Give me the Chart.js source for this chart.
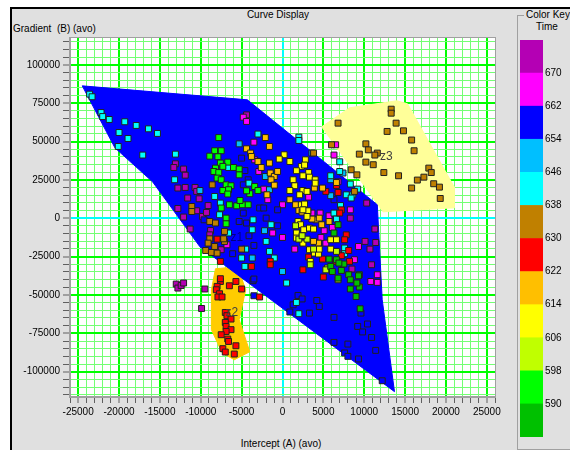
<!DOCTYPE html>
<html lang="en">
<head>
<meta charset="UTF-8" />
<title>Curve Display</title>
<script src="https://cdn.jsdelivr.net/npm/chart.js"></script>
<style>
  body { margin: 0; background: #fff; font-family: "Liberation Sans", Arial, sans-serif; }
  #frame { position: absolute; left: 10px; top: 7px; width: 560px; height: 443px; background: #e0e0e0;
           border-top: 2px solid #000; border-left: 2px solid #000; box-sizing: border-box; }
  .txt { position: absolute; font-size: 10px; color: #000; white-space: nowrap; line-height: 12px; }
  #mainWrap { position: absolute; left: 12px; top: 10px; width: 503px; height: 440px; }
  #keyWrap { position: absolute; left: 515px; top: 30px; width: 55px; height: 415px; }
  #keyBox { position: absolute; left: 517px; top: 15px; width: 60px; height: 433px;
            border-left: 1px solid #a0a0a0; border-top: 1px solid #a0a0a0; border-bottom: 1px solid #a0a0a0; }
</style>
</head>
<body>
<div id="frame"></div>
<div id="keyBox"></div>
<div class="txt" style="left:0;width:556px;text-align:center;top:9px;">Curve Display</div>
<div class="txt" style="left:13px;top:23px;">Gradient&nbsp;&nbsp;(B) (avo)</div>
<div class="txt" style="left:0;width:562px;text-align:center;top:438px;">Intercept (A) (avo)</div>
<div class="txt" style="left:524px;top:9px;background:#e0e0e0;padding:0 2px;">Color Key</div>
<div class="txt" style="left:536px;top:21px;">Time</div>
<div id="mainWrap"><canvas id="cross"></canvas></div>
<div id="keyWrap"><canvas id="key"></canvas></div>

<script>
// points grouped by time class (intercept, gradient)
const pts670 = [[-13100,35500],[-13300,33100],[-12100,32100],[-11900,28100],[-12800,19700],[-11900,20100],[-10700,20100],[-10500,17500],[-11600,13200],[-10200,12700],[-12800,6400],[-10500,4900],[-12100,800],[-11300,-7000],[-13000,-42900],[-12800,-45500],[-12400,-43800],[-12100,-42200],[-9500,-46100],[-9900,-58800],[-4400,67400],[-9800,1200],[-9100,8300],[-9300,3800],[-8800,-8000],[-8900,-10800],[10300,9900],[8300,100],[11300,-7000],[10100,-15100],[10700,-20100],[11400,-15800],[10900,-30300],[8500,-33100],[-7500,-20500]];
const pts662 = [[-4800,65900],[-4400,63100],[-3500,49600],[-3400,38100],[-2900,30500],[-2300,19000],[6500,47900],[6300,41200],[6800,23800],[3200,13800],[8300,5500],[9300,-18400],[10800,-41200],[11600,-41800],[11600,-36800],[0,8800],[0,-12500],[1500,-20100],[8800,-27000],[5700,1600],[5300,-16200],[5100,-8100],[3600,3400],[4600,3400],[6100,-6000],[4700,-12500],[7400,-23300],[-1800,12100],[-1200,-9600],[-6800,-17300]];
const pts654 = [[1900,-50300],[2400,-52600],[1300,-56400],[900,-61100],[3300,-61800],[4200,-53600],[4500,-57500],[6300,-64600],[9200,-70500],[10400,-68900],[9800,-74100],[10900,-77700],[6300,-80900],[8000,-82000],[7600,-87800],[8000,-90000],[9300,-91700],[11400,-86100],[12200,-105900],[9600,-61800],[-3500,-50500],[-3600,-40700],[-5000,39200],[-4600,31100],[-4200,25100],[-4800,21800],[-9600,-1000],[-5300,-2100],[-4800,3400],[-4400,-3100],[-4100,-11400],[-6100,-23100],[-3500,-39600],[-2800,6700],[-600,5500],[6300,12100],[-2300,6700],[-2000,100],[-600,-4900],[-3500,-17700]];
const pts646 = [[-5300,48500],[-10100,18100],[-2100,27200],[-1600,18600],[3600,42500],[0,-34700],[5900,25100],[7400,29500],[5900,14700],[-2200,-8100],[-3700,-25900]];
const pts638 = [[-22200,68900],[-22000,66300],[-21200,64400],[-19300,62900],[-17900,60500],[-16400,58300],[-15300,55300],[-20000,55900],[-18900,52000],[-20100,46800],[-17100,41200],[-13100,41800],[-13200,25100],[-23600,80900],[-23300,79200],[-3000,54900],[2000,52900],[2000,50700],[7000,36800],[5900,27700],[7000,30500],[8300,22300],[9200,19000],[8600,15300],[7800,15300],[8400,13200],[7100,8300],[6300,3400],[6600,-500],[7600,-19400],[7600,-23100],[-7700,2300],[-6600,-9600],[-4500,-20100],[-5000,-25900],[-4600,-31400],[-1000,-25900],[-1600,-21600],[-2000,-15100],[-1400,-4200],[-3600,-1000],[-3700,-7500],[-7600,9900],[500,-42200],[1700,-54900],[2000,-62200],[-4100,22900],[-8300,14200],[-6600,33100]];
const pts630 = [[13300,71100],[13300,68500],[6800,62000],[13900,62000],[12800,56600],[14800,57000],[15800,51000],[16100,44000],[10200,48500],[10500,44600],[11600,42500],[11300,41200],[9400,41800],[10200,36600],[11100,34900],[12400,29800],[14200,27700],[16500,24900],[17300,26800],[17900,32700],[18200,29800],[18500,22500],[19200,20300],[15800,19700],[19300,12900],[6000,47900],[8400,31600],[9100,28300],[3800,42500],[8800,17500],[-11100,7700],[-11100,4400],[-8600,21800],[-8900,-2100],[-8200,-3100],[-7100,-8600],[-8900,-13400],[-9100,-16200],[-8300,-18400],[-9400,-21000],[-8700,-22300],[-8000,-22700],[-7100,-15100],[-7200,-13400],[-5000,-20100]];
const pts622 = [[-7600,-41200],[-8000,-44400],[-8100,-46600],[-7700,-49200],[-7900,-51300],[-7400,-51300],[-6500,-44000],[-5700,-41200],[-5000,-46100],[-7000,-61400],[-6800,-63500],[-6300,-65700],[-7000,-67900],[-6900,-70500],[-6300,-72600],[-6900,-73800],[-7500,-75900],[-6700,-78700],[-6600,-80300],[-5700,-83100],[-7300,-85000],[-7000,-87200],[-5900,-88500],[-2800,-51300],[-8000,-13600],[-7600,-28100],[-7600,-39400],[-3800,-31400],[-1500,-28100],[-1500,-30300],[5300,17500],[6600,21400],[6800,16800],[7200,5500],[7000,3400],[7800,-10800],[8100,-21000],[3200,-25300],[4900,-26600],[6500,-28100],[8200,-28100],[2500,-33600],[5000,-38300],[7200,-24400],[7600,-14000]];
const pts614 = [[-2100,52600],[-1600,46800],[-4400,45300],[-3900,42500],[-3800,40300],[-3000,37000],[-1600,36000],[-2600,33100],[-1500,29500],[-1000,27200],[-1400,25100],[-1000,21600],[-1900,15300],[-600,30500],[3900,19700],[4900,19700],[6600,23300],[2000,5100],[2400,4000],[3100,3400],[4100,-1000],[4500,100],[4800,-4200],[5700,-2100],[4400,-16200],[3800,-15100],[3600,-500],[900,12100],[1600,8800]];
const pts606 = [[200,41400],[900,37000],[-400,38600],[2800,38100],[2300,33800],[2700,34700],[1700,31000],[3200,29800],[3300,26800],[2500,27700],[4000,25100],[4000,22900],[1300,25100],[1500,21200],[900,18100],[2500,18100],[3000,17500],[2100,15300],[2300,8800],[2700,9300],[3100,4900],[2500,5500],[3000,1200],[1900,-2100],[2200,-4200],[1700,-9600],[2600,-7500],[3300,-6400],[3800,-7000],[1700,-12900],[2500,-16200],[3300,-20500],[3900,-22700],[3400,-28100],[4400,-23300],[5900,-20100],[5900,-14000],[6600,-14000],[4500,-20100]];
const pts598 = [[2000,-13600],[3000,-13600],[3800,-20100],[3400,-30300],[5500,-32400],[6600,-21600],[1600,-4900],[2400,-11400],[6800,-40100],[5300,-33600]];
const pts590 = [[-7800,52600],[-8300,44000],[-7500,44000],[-8900,40500],[-7900,40100],[-6700,36600],[-7600,36000],[-8200,32700],[-7300,33800],[-6000,33100],[-5300,32100],[-8400,30500],[-7800,29800],[-5300,28300],[-8000,26200],[-7500,25100],[-6900,21800],[-6300,21200],[-7300,18100],[-6600,18600],[-6700,15800],[-4000,16000],[-4400,17900],[-3400,20700],[-3000,18100],[-7500,6700],[-6900,100],[-6900,-3600],[-6500,8800],[-5600,8100],[-4900,8800],[-4200,8800],[-5200,11600]];
const pts582 = [[8300,-46100],[9000,-51000],[9500,-59000],[9400,-44800],[9100,-42200],[9400,-36800],[6800,-4200],[6300,-9600],[5700,-26600],[5900,-31400],[6100,-34700],[6800,-39000],[7200,-34000],[7500,-29800],[8100,-36800],[8300,-40100],[9300,-37500],[6600,-27000],[6900,-29200]];

// zone outlines (polygons)
const zoneBlue = [[-24500,86300],[-4300,77200],[11600,8800],[12200,-53100],[13700,-113000],[-10100,-18600],[-15900,23800],[-20500,45900],[-24500,86300]];
const zoneZ3 = [[4800,59600],[8200,72000],[14000,76600],[15300,74600],[21000,20500],[21000,6800],[12300,4200],[4800,59600]];
const zoneZ2 = [[-8200,-32900],[-5500,-31600],[-4500,-46600],[-5300,-66100],[-4000,-87000],[-5900,-92200],[-7400,-87600],[-8700,-72600],[-8700,-46600],[-8200,-32900]];
const zoneNames = ['z1', 'z2', 'z3'];
const zoneNameX = [-5600, -6200, 12700];
const zoneNameY = [-12700, -61600, 40000];

// colour key
const keyTimes = [582, 590, 598, 606, 614, 622, 630, 638, 646, 654, 662, 670, 678];
const keyColors = ['#00c000', '#00ff00', '#c0ff00', '#ffff00', '#ffbf00', '#ff0000', '#c08000', '#00ffff', '#00bfff', '#0000ff', '#ff00ff', '#b400b4'];

const classPts = [pts582, pts590, pts598, pts606, pts614, pts622, pts630, pts638, pts646, pts654, pts662, pts670];

Chart.defaults.font.family = '"Liberation Sans", Arial, sans-serif';
Chart.defaults.font.size = 10;
Chart.defaults.color = '#000';

const toXY = arr => arr.map(p => ({ x: p[0], y: p[1] }));

const zoneSet = (pts, color, order) => ({
  data: toXY(pts), showLine: true, fill: 'shape', backgroundColor: color, borderColor: color,
  borderWidth: 1, pointRadius: 0, order: order
});

const datasets = [
  zoneSet(zoneZ3, '#ffff99', 30),
  zoneSet(zoneZ2, '#ffcc00', 29),
  zoneSet(zoneBlue, '#0000ff', 28)
];
classPts.forEach((pts, i) => {
  datasets.push({
    label: 'T' + keyTimes[i],
    data: toXY(pts),
    pointStyle: 'rect',
    pointRadius: 4.2,
    backgroundColor: keyColors[i],
    borderColor: '#202020',
    borderWidth: 1,
    order: i
  });
});

const xGrid = [];
for (let v = -26000; v <= 26000; v += 1000) xGrid.push(v);
const yGrid = [];
for (let v = -115000; v <= 115000; v += 5000) yGrid.push(v);

const gridColor = (major) => (ctx) => {
  const v = ctx.tick.value;
  if (v === 0) return '#00ffff';
  return v % major === 0 ? '#00ff00' : '#74ff74';
};
const gridWidth = (major) => (ctx) => (ctx.tick.value % major === 0 ? 2 : 1);

const extras = {
  id: 'extras',
  beforeDraw(chart) {
    const { ctx, chartArea: a } = chart;
    ctx.save();
    ctx.fillStyle = '#ffffff';
    ctx.fillRect(a.left, a.top, a.right - a.left, a.bottom - a.top);
    ctx.restore();
  },
  afterDatasetsDraw(chart) {
    const { ctx, scales: { x, y }, chartArea: a } = chart;
    ctx.save();
    ctx.font = '12px "Liberation Sans", Arial, sans-serif';
    ctx.textAlign = 'center';
    ctx.textBaseline = 'middle';
    zoneNames.forEach((n, i) => {
      ctx.fillStyle = i === 0 ? '#000080' : '#404040';
      ctx.fillText(n, x.getPixelForValue(zoneNameX[i]), y.getPixelForValue(zoneNameY[i]));
    });
    ctx.strokeStyle = '#a0a0a0';
    ctx.lineWidth = 1;
    ctx.strokeRect(a.left - 0.5, a.top - 0.5, a.right - a.left + 1, a.bottom - a.top + 1);
    ctx.restore();
  }
};

new Chart(document.getElementById('cross'), {
  type: 'scatter',
  data: { datasets },
  options: {
    responsive: true,
    maintainAspectRatio: false,
    animation: false,
    events: [],
    layout: { padding: { left: 0, right: 20, top: 28, bottom: 0 } },
    plugins: { legend: { display: false }, tooltip: { enabled: false } },
    scales: {
      x: {
        type: 'linear', min: -26000, max: 26000,
        afterBuildTicks: s => { s.ticks = xGrid.map(v => ({ value: v })); },
        afterFit: s => { s.height = 53; },
        ticks: { autoSkip: false, maxRotation: 0, padding: 3,
                 callback: v => (v % 5000 === 0 && Math.abs(v) <= 25000 ? String(v) : '') },
        grid: { color: gridColor(5000), lineWidth: gridWidth(5000), tickLength: 6, tickColor: '#606060', tickWidth: 1 },
        border: { color: '#a0a0a0', width: 2 }
      },
      y: {
        type: 'linear', min: -116500, max: 117500,
        afterBuildTicks: s => { s.ticks = yGrid.map(v => ({ value: v })); },
        afterFit: s => { s.width = 58; },
        ticks: { autoSkip: false, padding: 3,
                 callback: v => (v % 25000 === 0 && Math.abs(v) <= 100000 ? String(v) : '') },
        grid: { color: gridColor(25000), lineWidth: gridWidth(25000), tickLength: 7, tickColor: '#606060', tickWidth: 1 },
        border: { color: '#a0a0a0', width: 2 }
      }
    }
  },
  plugins: [extras]
});

new Chart(document.getElementById('key'), {
  type: 'bar',
  data: {
    labels: ['Time'],
    datasets: keyColors.map((c, i) => ({
      data: [[keyTimes[i], keyTimes[i + 1]]],
      backgroundColor: c, borderWidth: 0, grouped: false,
      barPercentage: 1, categoryPercentage: 1
    }))
  },
  options: {
    responsive: true,
    maintainAspectRatio: false,
    animation: false,
    events: [],
    layout: { padding: { left: 5, top: 10, bottom: 8, right: 0 } },
    plugins: { legend: { display: false }, tooltip: { enabled: false } },
    scales: {
      x: { display: false },
      y: {
        position: 'right', min: 582, max: 678,
        afterFit: s => { s.width = 27; },
        ticks: { stepSize: 8, padding: 2, callback: v => (v > 582 && v < 678 ? String(v) : '') },
        grid: { display: false, drawTicks: false },
        border: { display: false }
      }
    }
  }
});
</script>
</body>
</html>
